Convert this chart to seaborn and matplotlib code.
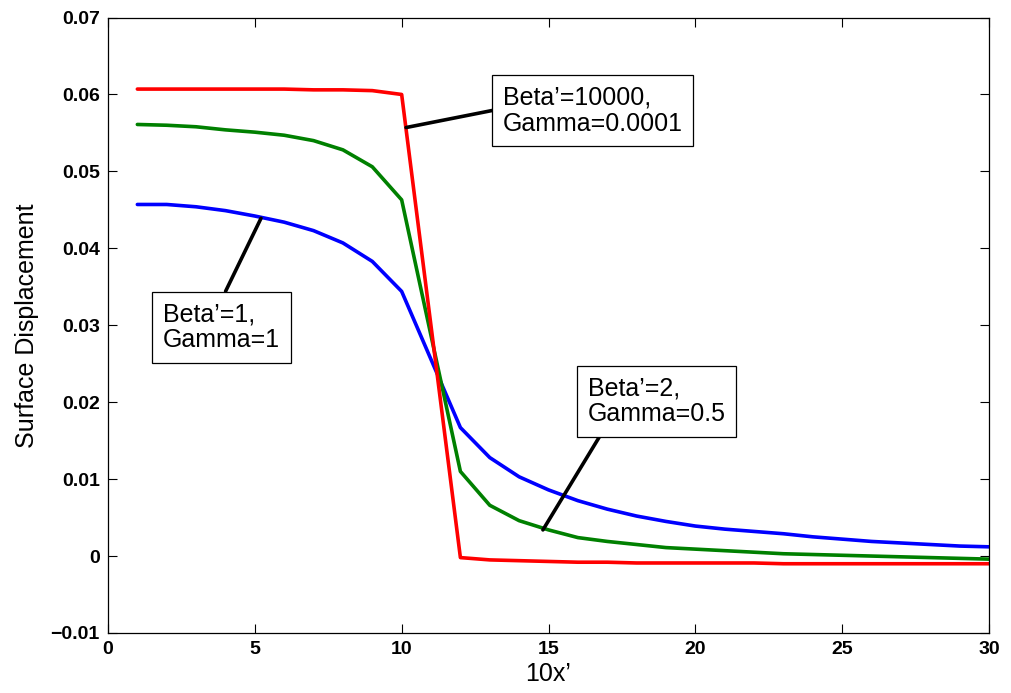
import numpy as np
import pandas as pd
import matplotlib
matplotlib.use('Agg')
import matplotlib.pyplot as plt
import seaborn as sns

# data (x = 10x', no sample at 11)
x_left = [1, 2, 3, 4, 5, 6, 7, 8, 9, 10]
x_right = list(range(12, 31))

blue_left = [0.0457, 0.0457, 0.0454, 0.0449, 0.0442, 0.0434, 0.0423, 0.0407, 0.0383, 0.0344]
blue_right = [0.0167, 0.0128, 0.0103, 0.0086, 0.0072, 0.0061, 0.0052, 0.0045, 0.0039, 0.0035,
              0.0032, 0.0029, 0.0025, 0.0022, 0.0019, 0.0017, 0.0015, 0.0013, 0.0012]

green_left = [0.0561, 0.0560, 0.0558, 0.0554, 0.0551, 0.0547, 0.0540, 0.0528, 0.0506, 0.0463]
green_right = [0.0110, 0.0066, 0.0046, 0.0034, 0.0024, 0.0019, 0.0015, 0.0011, 0.0009, 0.0007,
               0.0005, 0.0003, 0.0002, 0.0001, 0.0000, -0.0001, -0.0002, -0.0003, -0.0004]

red_left = [0.0607, 0.0607, 0.0607, 0.0607, 0.0607, 0.0607, 0.0606, 0.0606, 0.0605, 0.0600]
red_right = [-0.0002, -0.0005, -0.0006, -0.0007, -0.0008, -0.0008, -0.0009, -0.0009, -0.0009, -0.0009,
             -0.0009, -0.0010, -0.0010, -0.0010, -0.0010, -0.0010, -0.0010, -0.0010, -0.0010]

series_names = ["Beta'=1, Gamma=1", "Beta'=2, Gamma=0.5", "Beta'=10000, Gamma=0.0001"]
series_colors = ['#0000ff', '#008000', '#ff0000']

x_ticks = [0, 5, 10, 15, 20, 25, 30]
y_ticks = [-0.01, 0, 0.01, 0.02, 0.03, 0.04, 0.05, 0.06, 0.07]
y_tick_labels = ['\u22120.01', '0', '0.01', '0.02', '0.03', '0.04', '0.05', '0.06', '0.07']

rows = []
for name, left, right in zip(series_names,
                             [blue_left, green_left, red_left],
                             [blue_right, green_right, red_right]):
    for xv, yv in zip(x_left + x_right, left + right):
        rows.append({'x': xv, 'y': yv, 'case': name})
df = pd.DataFrame(rows)

sns.set_style('ticks')
plt.rcParams['font.family'] = ['Liberation Sans', 'DejaVu Sans']
plt.rcParams['text.color'] = 'black'
plt.rcParams['axes.labelcolor'] = 'black'

fig = plt.figure(figsize=(10.12, 6.93), dpi=100)
ax = fig.add_axes([0.1067, 0.0866, 0.8706, 0.8881])

sns.lineplot(data=df, x='x', y='y', hue='case', hue_order=series_names,
             palette=dict(zip(series_names, series_colors)), estimator=None,
             linewidth=2.6, legend=False, ax=ax)

ax.set_xlim(0, 30)
ax.set_ylim(-0.01, 0.07)
ax.set_xticks(x_ticks)
ax.set_xticklabels([str(t) for t in x_ticks], fontsize=14, fontweight='bold')
ax.set_yticks(y_ticks)
ax.set_yticklabels(y_tick_labels, fontsize=14, fontweight='bold')
ax.tick_params(direction='in', length=6.5, width=0.8, top=True, right=True,
               color='black', labelcolor='black')
ax.tick_params(axis='x', pad=6)
ax.tick_params(axis='y', pad=6)
for sp in ax.spines.values():
    sp.set_visible(True)
    sp.set_linewidth(0.9)
    sp.set_color('black')

ax.set_xlabel("10x\u2019", fontsize=18, labelpad=3)
ax.set_ylabel("Surface Displacement", fontsize=18, labelpad=8)

box = dict(boxstyle='square,pad=0.42', fc='white', ec='black', lw=0.9)
arrow = dict(arrowstyle='-', color='black', lw=2.6, shrinkA=0, shrinkB=0)

ax.annotate("Beta\u2019=10000,\nGamma=0.0001", xy=(10.15, 0.0557), xytext=(13.45, 0.0612),
            ha='left', va='top', fontsize=18, linespacing=1.12, bbox=box, color='black',
            arrowprops=dict(arrow, relpos=(0, 0.54)))
ax.annotate("Beta\u2019=1,\nGamma=1", xy=(5.21, 0.0439), xytext=(1.87, 0.0330),
            ha='left', va='top', fontsize=18, linespacing=1.12, bbox=box, color='black',
            arrowprops=dict(arrow, relpos=(0.49, 1)))
ax.annotate("Beta\u2019=2,\nGamma=0.5", xy=(14.81, 0.0034), xytext=(16.34, 0.0234),
            ha='left', va='top', fontsize=18, linespacing=1.12, bbox=box, color='black',
            arrowprops=dict(arrow, relpos=(0.13, 0)))

fig.savefig('out.png', dpi=100)
